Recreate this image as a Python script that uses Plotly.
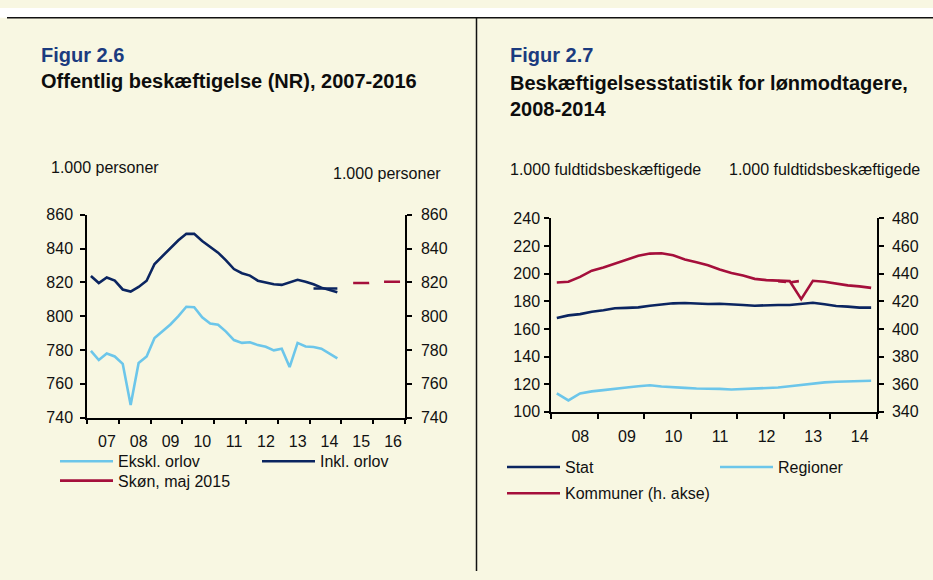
import plotly.graph_objects as go
import pandas as pd

W, H = 933, 580

# ---- Figur 2.6: Offentlig beskæftigelse (NR), kvartaler 2007K1-2014K4
ekskl_orlov = [779.5, 774.1, 777.9, 776.2, 771.8, 747.5, 772.3, 776.2,
               787.1, 791.3, 795.1, 800.1, 805.6, 805.3, 799.3, 795.7,
               794.9, 790.9, 785.9, 784.2, 784.6, 782.9, 781.9, 779.8,
               780.8, 769.9, 784.2, 782.1, 781.8, 780.8, 777.9, 775.0]
inkl_orlov = [823.8, 819.6, 822.9, 821.1, 815.8, 814.6, 817.3, 821.0,
              830.9, 835.5, 839.7, 844.9, 848.7, 848.7, 844.5, 841.1,
              837.6, 833.0, 827.9, 825.4, 824.0, 821.0, 820.0, 818.9,
              818.5, 820.2, 821.5, 820.4, 818.9, 816.9, 815.4, 814.2]
inkl_2014_niveau = [816.4, 816.4, 816.4, 816.4]
skoen_maj2015 = [819.6, 819.6, 819.6, 820.4, 820.4, 820.4, 820.4]

# ---- Figur 2.7: Beskæftigelsesstatistik, kvartaler 2008K1-2014K4
stat = [167.9, 169.8, 170.7, 172.4, 173.5, 174.9, 175.2, 175.6,
        176.8, 177.8, 178.5, 178.7, 178.2, 178.0, 178.2, 177.5,
        177.3, 176.8, 177.3, 177.3, 177.3, 178.2, 178.9, 177.8,
        176.6, 176.1, 175.4, 175.4]
regioner = [113.3, 108.2, 113.3, 114.8, 115.7, 116.9, 117.6, 118.5,
            119.2, 118.3, 117.6, 117.3, 116.9, 116.9, 116.6, 116.1,
            116.4, 116.6, 116.9, 117.6, 118.5, 119.5, 120.4, 121.3,
            121.8, 122.0, 122.0, 122.5]
kommuner = [433.6, 434.1, 437.6, 442.1, 444.4, 447.3, 450.5, 452.9,
            454.5, 454.7, 453.3, 450.3, 448.2, 446.1, 443.0, 440.4,
            438.6, 436.2, 435.3, 435.0, 434.6, 421.5, 434.8, 434.1,
            432.7, 431.5, 430.8, 429.7]
kommuner_korr = [434.6, 433.6, 434.8]


def quarter_mid(start, end):
    p = pd.period_range(start, end, freq='Q')
    return list(p.start_time + (p.end_time - p.start_time) / 2)


q_0714 = quarter_mid('2007Q1', '2014Q4')
q_2014 = quarter_mid('2014Q1', '2014Q4')
q_skoen = quarter_mid('2015Q2', '2016Q4')
q_0814 = quarter_mid('2008Q1', '2014Q4')
q_korr = quarter_mid('2012Q4', '2013Q2')

NAVY = '#0b2560'
LIGHT = '#6cc6ea'
RED = '#a50f3b'
BG = '#f8f7e2'
FONT = 'Arial, Liberation Sans, sans-serif'


def px(x):
    return x / W


def py(y):
    return 1 - y / H


fig = go.Figure()

# venstre figur
fig.add_trace(go.Scatter(x=q_0714, y=ekskl_orlov, mode='lines', name='Ekskl. orlov',
                         line=dict(color=LIGHT, width=2.6), xaxis='x', yaxis='y',
                         legend='legend'))
fig.add_trace(go.Scatter(x=q_0714, y=inkl_orlov, mode='lines', name='Inkl. orlov',
                         line=dict(color=NAVY, width=2.6), xaxis='x', yaxis='y',
                         legend='legend2'))
fig.add_trace(go.Scatter(x=q_2014, y=inkl_2014_niveau, mode='lines', showlegend=False,
                         line=dict(color=NAVY, width=2.6), xaxis='x', yaxis='y'))
fig.add_trace(go.Scatter(x=q_skoen, y=skoen_maj2015, mode='lines', showlegend=False,
                         line=dict(color=RED, width=2.6, dash='16px,15px'),
                         xaxis='x', yaxis='y'))
fig.add_trace(go.Scatter(x=[None], y=[None], mode='lines', name='Skøn, maj 2015',
                         line=dict(color=RED, width=2.6), xaxis='x', yaxis='y',
                         legend='legend3'))
# tom trace for at vise højre akse
fig.add_trace(go.Scatter(x=[None], y=[None], showlegend=False, xaxis='x', yaxis='y2'))

# højre figur
fig.add_trace(go.Scatter(x=q_0814, y=stat, mode='lines', name='Stat',
                         line=dict(color=NAVY, width=2.6), xaxis='x2', yaxis='y3',
                         legend='legend4'))
fig.add_trace(go.Scatter(x=q_0814, y=regioner, mode='lines', name='Regioner',
                         line=dict(color=LIGHT, width=2.6), xaxis='x2', yaxis='y3',
                         legend='legend5'))
fig.add_trace(go.Scatter(x=q_0814, y=kommuner, mode='lines', name='Kommuner (h. akse)',
                         line=dict(color=RED, width=2.6), xaxis='x2', yaxis='y4',
                         legend='legend6'))
fig.add_trace(go.Scatter(x=q_korr, y=kommuner_korr, mode='lines', showlegend=False,
                         line=dict(color=RED, width=2.6, dash='8px,5px'),
                         xaxis='x2', yaxis='y4'))

tickfont = dict(family=FONT, size=16, color='#111111')
yax = dict(showgrid=False, zeroline=False, showline=True, linecolor='black', linewidth=1.5,
           ticks='outside', ticklen=5, tickwidth=1.5, tickcolor='black', dtick=20,
           tickfont=tickfont, fixedrange=True)
xax = dict(type='date', showgrid=False, zeroline=False, showline=True, linecolor='black',
           linewidth=1.5, ticks='outside', ticklen=5, tickwidth=1.5, tickcolor='black',
           dtick='M12', tickformat='%y', ticklabelmode='period', tickfont=tickfont,
           fixedrange=True)

fig.update_layout(
    width=W, height=H, autosize=False,
    margin=dict(l=0, r=0, t=0, b=0),
    paper_bgcolor=BG, plot_bgcolor=BG,
    font=dict(family=FONT, size=16, color='#111111'),
    xaxis=dict(xax, domain=[px(87), px(405)], range=['2007-01-01', '2017-01-01'],
               tick0='2007-01-01', anchor='y', ticklabelshift=4, ticklabelstandoff=3),
    yaxis=dict(yax, domain=[py(422), py(213)], range=[740, 860], anchor='x',
               ticklabelstandoff=4),
    yaxis2=dict(yax, range=[740, 860], overlaying='y', side='right', anchor='x',
                ticklabelstandoff=6),
    xaxis2=dict(xax, domain=[px(551), px(877)], range=['2008-01-01', '2015-01-01'],
                tick0='2008-01-01', anchor='y3', ticklabelshift=6, ticklabelstandoff=4),
    yaxis3=dict(yax, domain=[py(416), py(216.7)], range=[100, 240], anchor='x2',
                ticklabelstandoff=1),
    yaxis4=dict(yax, range=[340, 480], overlaying='y3', side='right', anchor='x2',
                ticklabelstandoff=5),
    showlegend=True,
)

leg = dict(orientation='h', xanchor='left', yanchor='middle', bgcolor='rgba(0,0,0,0)',
           itemwidth=53, font=dict(family=FONT, size=16, color='#111111'))
fig.update_layout(
    legend=dict(leg, x=px(55), y=py(467)),
    legend2=dict(leg, x=px(257), y=py(467)),
    legend3=dict(leg, x=px(55), y=py(487)),
    legend4=dict(leg, x=px(502), y=py(473)),
    legend5=dict(leg, x=px(715), y=py(473)),
    legend6=dict(leg, x=px(502), y=py(500)),
)

anns = [
    dict(text='<b>Figur 2.6</b>', x=px(39), y=py(48.5), size=20, color='#1b3b7f'),
    dict(text='<b>Offentlig beskæftigelse (NR), 2007-2016</b>', x=px(39), y=py(75),
         size=20, color='#0d0d0d'),
    dict(text='1.000 personer', x=px(49), y=py(164), size=16, color='#111111'),
    dict(text='1.000 personer', x=px(331), y=py(170), size=16, color='#111111'),
    dict(text='<b>Figur 2.7</b>', x=px(508), y=py(48.5), size=20, color='#1b3b7f'),
    dict(text='<b>Beskæftigelsesstatistik for lønmodtagere,</b><br><b>2008-2014</b>',
         x=px(508), y=py(91), size=20, color='#0d0d0d'),
    dict(text='1.000 fuldtidsbeskæftigede', x=px(508), y=py(166), size=16, color='#111111'),
    dict(text='1.000 fuldtidsbeskæftigede', x=px(727), y=py(166), size=16, color='#111111'),
]
for a in anns:
    fig.add_annotation(text=a['text'], x=a['x'], y=a['y'], xref='paper', yref='paper',
                       xanchor='left', yanchor='middle', align='left', showarrow=False,
                       font=dict(family=FONT, size=a['size'], color=a['color']))

# hvid kant over rammen, topstreg og skillelinje
fig.add_shape(type='rect', xref='paper', yref='paper', x0=0, x1=1, y0=py(10), y1=1,
              fillcolor='white', line=dict(width=0), layer='below')
fig.add_shape(type='line', xref='paper', yref='paper', x0=px(7), x1=1, y0=py(10), y1=py(10),
              line=dict(color='#111111', width=1.5))
fig.add_shape(type='line', xref='paper', yref='paper', x0=px(476.5), x1=px(476.5),
              y0=py(10), y1=0, line=dict(color='#111111', width=1.5))

# siden skal starte i hjørnet (ingen body-margin), uden værktøjslinje
fig.write_html("out.html", config={'displayModeBar': False},
               post_script="document.body.style.margin='0';")
